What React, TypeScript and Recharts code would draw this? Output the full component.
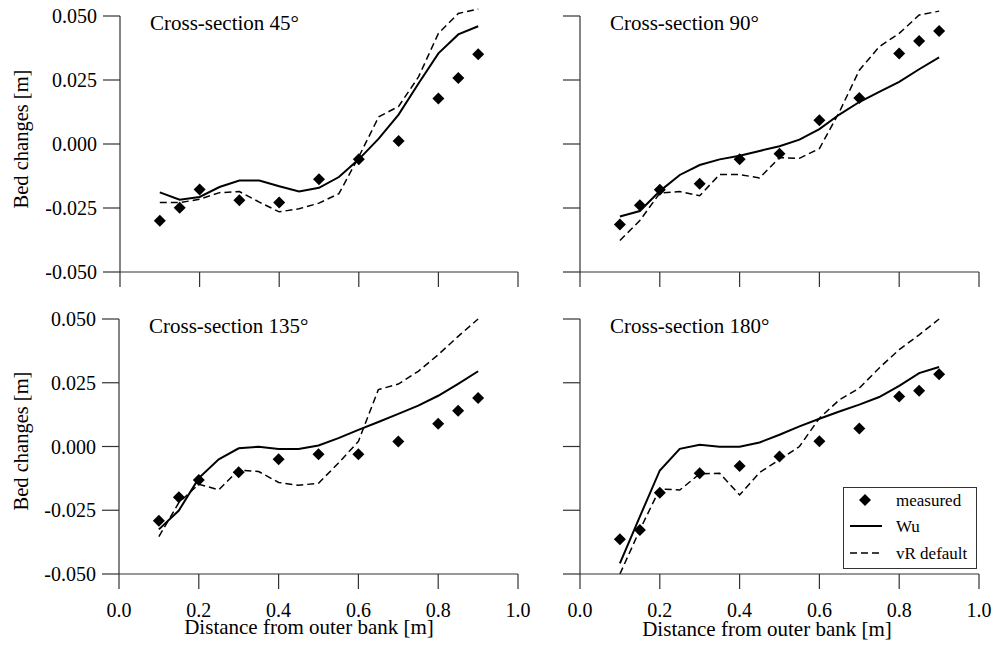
import React from 'react';
import { ComposedChart, Line, Scatter, XAxis, YAxis, Legend, Customized } from 'recharts';

const FONT = '"Liberation Serif", "Times New Roman", Times, serif';

// ---- data ----
const xModel = [0.1, 0.15, 0.2, 0.25, 0.3, 0.35, 0.4, 0.45, 0.5, 0.55, 0.6, 0.65, 0.7, 0.75, 0.8, 0.85, 0.9];
const xMeas = [0.1, 0.15, 0.2, 0.3, 0.4, 0.5, 0.6, 0.7, 0.8, 0.85, 0.9];
const xTicks = [0, 0.2, 0.4, 0.6, 0.8, 1.0];
const yTicks = [-0.05, -0.025, 0, 0.025, 0.05];

const meas45 = [-0.030, -0.0249, -0.0178, -0.0220, -0.0229, -0.0138, -0.0060, 0.0012, 0.0178, 0.0258, 0.0351];
const wu45 = [-0.0189, -0.0218, -0.0207, -0.0168, -0.0143, -0.0143, -0.0165, -0.0185, -0.0171, -0.0129, -0.0060, 0.0021, 0.0115, 0.0236, 0.0354, 0.0428, 0.0460];
const vr45 = [-0.0229, -0.0229, -0.0216, -0.0190, -0.0186, -0.0227, -0.0265, -0.0253, -0.0231, -0.0194, -0.0050, 0.0106, 0.0147, 0.0262, 0.0432, 0.0510, 0.0527];

const meas90 = [-0.0314, -0.0239, -0.0179, -0.0155, -0.0060, -0.0038, 0.0093, 0.0180, 0.0354, 0.0402, 0.0441];
const wu90 = [-0.0283, -0.0262, -0.0184, -0.0121, -0.0082, -0.0060, -0.0046, -0.0027, -0.0009, 0.0017, 0.0058, 0.0115, 0.0164, 0.0204, 0.0243, 0.0292, 0.0338];
const vr90 = [-0.0377, -0.0299, -0.0192, -0.0186, -0.0202, -0.0119, -0.0119, -0.0133, -0.0053, -0.0056, -0.0018, 0.0125, 0.0288, 0.0380, 0.0432, 0.0504, 0.0519];

const meas135 = [-0.0291, -0.0199, -0.0131, -0.0101, -0.0050, -0.0030, -0.0030, 0.0020, 0.0089, 0.0140, 0.0190];
const wu135 = [-0.0325, -0.0251, -0.0124, -0.0050, -0.0007, -0.0001, -0.0010, -0.0010, 0.0004, 0.0033, 0.0065, 0.0096, 0.0128, 0.0160, 0.0199, 0.0246, 0.0295];
const vr135 = [-0.0353, -0.0220, -0.0148, -0.0170, -0.0092, -0.0098, -0.0141, -0.0152, -0.0144, -0.0065, 0.0020, 0.0223, 0.0245, 0.0295, 0.0360, 0.0432, 0.0500];

const meas180 = [-0.0364, -0.0327, -0.0181, -0.0105, -0.0076, -0.0039, 0.0021, 0.0071, 0.0196, 0.0219, 0.0283];
const wu180 = [-0.0458, -0.0275, -0.0094, -0.0009, 0.0007, -0.0001, -0.0001, 0.0016, 0.0046, 0.0079, 0.0109, 0.0137, 0.0164, 0.0194, 0.0238, 0.0288, 0.0312];
const vr180 = [-0.0500, -0.0327, -0.0166, -0.0171, -0.0107, -0.0105, -0.0190, -0.0102, -0.0052, 0.0000, 0.0111, 0.0183, 0.0229, 0.0308, 0.0380, 0.0438, 0.0500];

const titles = ['Cross-section 45°', 'Cross-section 90°', 'Cross-section 135°', 'Cross-section 180°'];
const yLabel = 'Bed changes [m]';
const xLabel = 'Distance from outer bank [m]';
const legendNames = ['measured', 'Wu', 'vR default'];

const AXIS = '#333';

const Diamond = (props: any) => {
  const { cx, cy } = props;
  if (cx == null || cy == null) return null;
  const r = 6;
  return <path d={`M${cx},${cy - r}L${cx + r},${cy}L${cx},${cy + r}L${cx - r},${cy}Z`} fill="#000" />;
};

const LegendBox = () => (
  <svg width={134} height={82} style={{ display: 'block', fontFamily: FONT }}>
    <rect x={0.5} y={0.5} width={133} height={81} fill="#fff" stroke="#333" strokeWidth={1} />
    <path d="M22,7L28,13L22,19L16,13Z" fill="#000" />
    <text x={53} y={19} fontSize={17} fill="#000" fontFamily={FONT}>{legendNames[0]}</text>
    <line x1={7} x2={39} y1={39} y2={39} stroke="#000" strokeWidth={2} />
    <text x={53} y={45} fontSize={17} fill="#000" fontFamily={FONT}>{legendNames[1]}</text>
    <line x1={7} x2={39} y1={66} y2={66} stroke="#000" strokeWidth={1.5} strokeDasharray="7 4" />
    <text x={53} y={72} fontSize={17} fill="#000" fontFamily={FONT}>{legendNames[2]}</text>
  </svg>
);

type PanelProps = {
  left: number; top: number; width: number; height: number;
  margin: { top: number; right: number; bottom: number; left: number };
  yAxisWidth: number; xAxisHeight: number;
  title: string; titlePos: [number, number];
  wu: number[]; vr: number[]; meas: number[];
  showXLabels: boolean; showYLabels: boolean; showLegend?: boolean;
  yLabelPos?: [number, number]; xLabelPos?: [number, number];
};

const Panel = (p: PanelProps) => {
  const modelData = xModel.map((x, i) => ({ x, wu: p.wu[i], vr: p.vr[i] }));
  const measData = xMeas.map((x, i) => ({ x, y: p.meas[i] }));
  const Texts = () => (
    <g>
      <text x={p.titlePos[0]} y={p.titlePos[1]} fontSize={21} fill="#000" fontFamily={FONT}>{p.title}</text>
      {p.yLabelPos && (
        <text
          x={p.yLabelPos[0]} y={p.yLabelPos[1]} fontSize={20.5} fill="#000" fontFamily={FONT}
          textAnchor="middle" dominantBaseline="central"
          transform={`rotate(-90, ${p.yLabelPos[0]}, ${p.yLabelPos[1]})`}
        >{yLabel}</text>
      )}
      {p.xLabelPos && (
        <text x={p.xLabelPos[0]} y={p.xLabelPos[1]} fontSize={21} fill="#000" fontFamily={FONT} textAnchor="middle">{xLabel}</text>
      )}
    </g>
  );
  return (
    <div style={{ position: 'absolute', left: p.left, top: p.top, width: p.width, height: p.height }}>
      <ComposedChart width={p.width} height={p.height} data={modelData} margin={p.margin} style={{ fontFamily: FONT, overflow: 'visible' }}>
        <XAxis
          dataKey="x" type="number" domain={[0, 1]} ticks={xTicks} allowDataOverflow
          height={p.xAxisHeight} tickSize={15} tickMargin={14}
          axisLine={{ stroke: AXIS, strokeWidth: 1.2 }} tickLine={{ stroke: AXIS, strokeWidth: 1.2 }}
          tick={{ fill: '#000', fontSize: 20, fontFamily: FONT }}
          tickFormatter={(v: number) => (p.showXLabels ? v.toFixed(1) : '')}
        />
        <YAxis
          type="number" domain={[-0.05, 0.05]} ticks={yTicks} allowDataOverflow
          width={p.yAxisWidth} tickSize={17} tickMargin={6}
          axisLine={{ stroke: AXIS, strokeWidth: 1.2 }} tickLine={{ stroke: AXIS, strokeWidth: 1.2 }}
          tick={{ fill: '#000', fontSize: 20, fontFamily: FONT }}
          tickFormatter={(v: number) => (p.showYLabels ? v.toFixed(3) : '')}
        />
        <Line dataKey="wu" type="linear" stroke="#000" strokeWidth={2} dot={false} isAnimationActive={false} />
        <Line dataKey="vr" type="linear" stroke="#000" strokeWidth={1.5} strokeDasharray="7 4" dot={false} isAnimationActive={false} />
        <Scatter data={measData} dataKey="y" shape={Diamond} isAnimationActive={false} />
        {p.showLegend && (
          <Legend
            layout="vertical" align="center" verticalAlign="middle"
            wrapperStyle={{ position: 'absolute', left: 363, top: 187, width: 134, height: 82 }}
            content={() => <LegendBox />}
          />
        )}
        <Customized component={Texts} />
      </ComposedChart>
    </div>
  );
};

export default function App() {
  return (
    <div style={{ position: 'absolute', left: 0, top: 0, width: 996, height: 652, background: '#fff', fontFamily: FONT }}>
      <style>{`.recharts-line, .recharts-line-curve, .recharts-scatter { clip-path: none !important; }`}</style>
      <Panel
        left={0} top={0} width={540} height={300}
        margin={{ top: 16, right: 22, bottom: 0, left: 0 }} yAxisWidth={120} xAxisHeight={28}
        title={titles[0]} titlePos={[150, 30]} wu={wu45} vr={vr45} meas={meas45}
        showXLabels={false} showYLabels={true} yLabelPos={[21, 139]}
      />
      <Panel
        left={480} top={0} width={516} height={300}
        margin={{ top: 16, right: 17, bottom: 0, left: 0 }} yAxisWidth={100} xAxisHeight={28}
        title={titles[1]} titlePos={[130, 30]} wu={wu90} vr={vr90} meas={meas90}
        showXLabels={false} showYLabels={false}
      />
      <Panel
        left={0} top={300} width={540} height={352}
        margin={{ top: 19, right: 22, bottom: 0, left: 0 }} yAxisWidth={119} xAxisHeight={78}
        title={titles[2]} titlePos={[149, 33]} wu={wu135} vr={vr135} meas={meas135}
        showXLabels={true} showYLabels={true} yLabelPos={[21, 141]} xLabelPos={[309, 334]}
      />
      <Panel
        left={480} top={300} width={516} height={352}
        margin={{ top: 19, right: 17, bottom: 0, left: 0 }} yAxisWidth={100} xAxisHeight={78}
        title={titles[3]} titlePos={[130, 33]} wu={wu180} vr={vr180} meas={meas180}
        showXLabels={true} showYLabels={false} xLabelPos={[287, 336]} showLegend
      />
    </div>
  );
}
